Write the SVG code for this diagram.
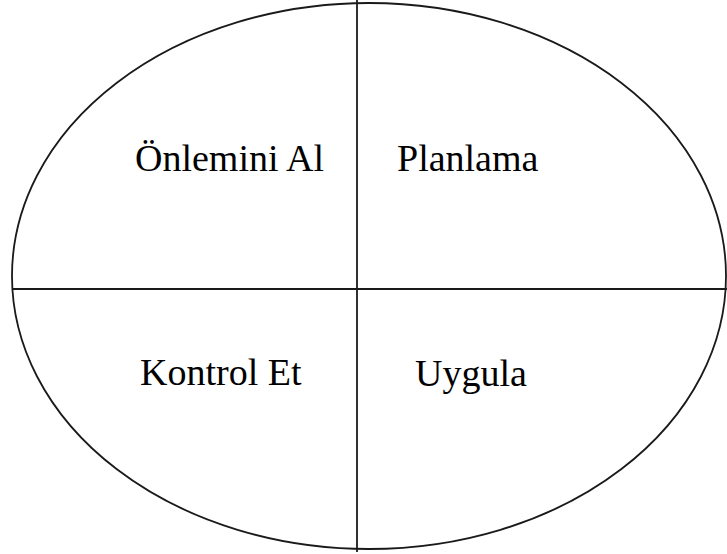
<svg xmlns="http://www.w3.org/2000/svg" width="727" height="554" viewBox="0 0 727 554">
<style>
.s{fill:none;stroke:#1a1a1a;stroke-width:1.8}
text{font-family:"Liberation Serif","Times New Roman",serif;font-size:38px;fill:#000}
</style>
<rect width="727" height="554" fill="#fff"/>
<g id="oval"><ellipse class="s" cx="369" cy="276" rx="357" ry="273"/></g>
<g id="connectors">
<line class="s" x1="357" y1="0" x2="357" y2="552"/>
<line class="s" x1="12" y1="289" x2="727" y2="289"/>
</g>
<g id="n1"><text x="135" y="171">Önlemini Al</text></g>
<g id="n2"><text x="397" y="171">Planlama</text></g>
<g id="n3"><text x="140" y="385">Kontrol Et</text></g>
<g id="n4"><text x="415" y="386">Uygula</text></g>
</svg>
